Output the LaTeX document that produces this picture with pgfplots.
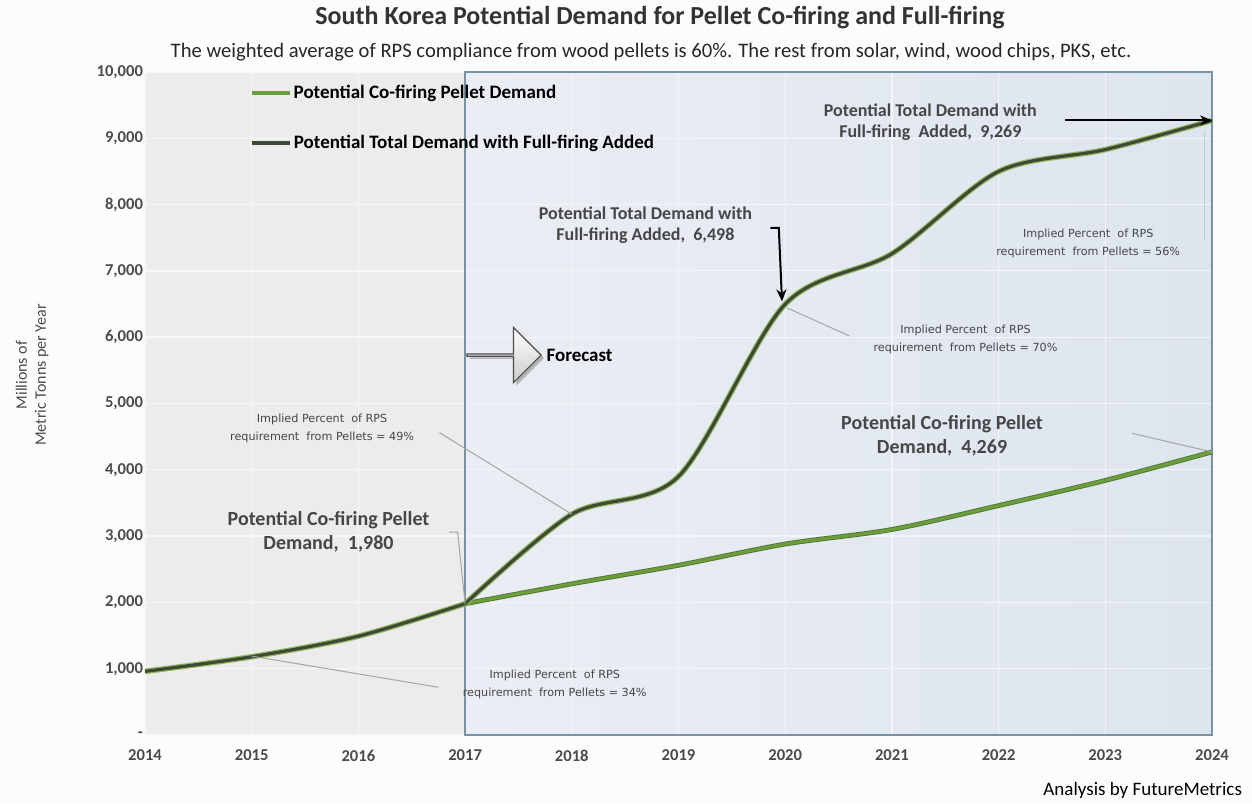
\documentclass[border=0pt]{standalone}
\usepackage{fontspec}
\setmainfont{Carlito}
\newfontfamily\smallfont{DejaVu Sans}
\usepackage{pgfplots}
\pgfplotsset{compat=1.18}
\usetikzlibrary{shapes.arrows,arrows.meta}
\definecolor{cofire}{RGB}{108,158,62}
\definecolor{cofiredark}{RGB}{80,120,48}
\definecolor{total}{RGB}{62,74,52}
\definecolor{totalglow}{RGB}{150,185,100}
\definecolor{plotbg}{RGB}{236,236,237}
\definecolor{gridc}{RGB}{247,247,247}
\definecolor{fcl}{RGB}{235,237,244}
\definecolor{fcr}{RGB}{221,229,239}
\definecolor{fcgrid}{RGB}{243,245,249}
\definecolor{fcborder}{RGB}{120,146,166}
\definecolor{txt}{RGB}{75,75,75}
\definecolor{ann}{RGB}{70,70,70}
\definecolor{lead}{RGB}{165,165,165}

\begin{document}
\begin{tikzpicture}
\fill[white!98!gray] (-72.5pt,-34pt) rectangle (553.5pt,367.5pt);
\begin{axis}[
  scale only axis, width=533.5pt, height=331.5pt,
  xmin=2014, xmax=2024, ymin=0, ymax=10000,
  axis background/.style={fill=plotbg},
  axis line style={draw=none},
  major tick length=0pt,
  scaled y ticks=false,
  xtick={2014,2015,2016,2017,2018,2019,2020,2021,2022,2023,2024},
  xticklabels={2014,2015,2016,2017,2018,2019,2020,2021,2022,2023,2024},
  ytick={0,1000,2000,3000,4000,5000,6000,7000,8000,9000,10000},
  yticklabels={{-},{1,000},{2,000},{3,000},{4,000},{5,000},{6,000},{7,000},{8,000},{9,000},{10,000}},
  tick label style={font=\fontsize{8.3}{9}\selectfont\bfseries, text=txt},
  xticklabel style={yshift=-4pt},
  yticklabel style={xshift=2.5pt},
  /pgf/number format/assume math mode=true,
  grid=major, grid style={gridc, line width=0.7pt},
  clip=false,
]
% forecast region
\fill[left color=fcl, right color=fcr] (axis cs:2017,0) rectangle (axis cs:2024,10000);
\draw[fcgrid, line width=0.6pt]
  (axis cs:2017,1000) -- (axis cs:2024,1000) (axis cs:2017,2000) -- (axis cs:2024,2000)
  (axis cs:2017,3000) -- (axis cs:2024,3000) (axis cs:2017,4000) -- (axis cs:2024,4000)
  (axis cs:2017,5000) -- (axis cs:2024,5000) (axis cs:2017,6000) -- (axis cs:2024,6000)
  (axis cs:2017,7000) -- (axis cs:2024,7000) (axis cs:2017,8000) -- (axis cs:2024,8000)
  (axis cs:2017,9000) -- (axis cs:2024,9000)
  (axis cs:2018,0) -- (axis cs:2018,10000) (axis cs:2019,0) -- (axis cs:2019,10000)
  (axis cs:2020,0) -- (axis cs:2020,10000) (axis cs:2021,0) -- (axis cs:2021,10000)
  (axis cs:2022,0) -- (axis cs:2022,10000) (axis cs:2023,0) -- (axis cs:2023,10000);
\draw[fcborder, line width=1pt] (axis cs:2017,0) rectangle (axis cs:2024,10000);

% co-firing (forecast part)
\addplot[cofiredark, line width=2.4pt, smooth, forget plot] coordinates {
 (2017,1980) (2018,2280) (2019,2560) (2020,2880) (2021,3100) (2022,3460) (2023,3840) (2024,4269)};
\addplot[cofire, line width=1.5pt, smooth] coordinates {
 (2017,1980) (2018,2280) (2019,2560) (2020,2880) (2021,3100) (2022,3460) (2023,3840) (2024,4269)};
% history (co-firing = total)
\addplot[totalglow, line width=2.8pt, smooth, forget plot] coordinates {
 (2014,960) (2015,1180) (2016,1490) (2017,1980)};
\addplot[total, line width=1.6pt, smooth, forget plot] coordinates {
 (2014,960) (2015,1180) (2016,1490) (2017,1980)};
% total demand (forecast part)
\addplot[totalglow, line width=2.8pt, smooth, forget plot] coordinates {
 (2017,1980) (2018,3330) (2019,3900) (2020,6498) (2021,7260) (2022,8500) (2023,8830) (2024,9269)};
\addplot[total, line width=1.6pt, smooth] coordinates {
 (2017,1980) (2018,3330) (2019,3900) (2020,6498) (2021,7260) (2022,8500) (2023,8830) (2024,9269)};

% legend
\draw[cofire, line width=1.6pt] (axis cs:2015.0,9683) -- (axis cs:2015.36,9683)
  node[right, inner sep=1pt, text=black, font=\fontsize{9.5}{11}\selectfont\bfseries] {Potential Co-firing Pellet Demand};
\draw[total, line width=1.8pt] (axis cs:2015.0,8929) -- (axis cs:2015.36,8929)
  node[right, inner sep=1pt, text=black, font=\fontsize{9.5}{11}\selectfont\bfseries] {Potential Total Demand with Full-firing Added};

% forecast arrow
\node[single arrow, fill=gray!60, minimum height=37pt, minimum width=27.5pt,
  single arrow head extend=7pt, inner sep=0pt] at ([xshift=1.5pt,yshift=-1.5pt]axis cs:2017.36,5731) {};
\node[single arrow, draw=gray!60!black, top color=white, bottom color=gray!40, minimum height=37pt, minimum width=27.5pt,
  single arrow head extend=7pt, inner sep=0pt, line width=0.6pt] at (axis cs:2017.36,5731) {};
\node[anchor=west, inner sep=0pt, font=\fontsize{9.5}{11}\selectfont\bfseries] at (axis cs:2017.76,5731) {Forecast};

% leader lines
\draw[lead, line width=0.5pt] (axis cs:2015.0,1190) -- (axis cs:2016.75,720);
\draw[lead, line width=0.5pt] (axis cs:2016.76,4560) -- (axis cs:2018.0,3330);
\draw[lead, line width=0.5pt] (axis cs:2016.85,3060) -- (axis cs:2016.93,3060) -- (axis cs:2017,1980);
\draw[lead, line width=0.5pt] (axis cs:2020.02,6440) -- (axis cs:2020.6,6020);
\draw[lead, line width=0.5pt] (axis cs:2023.25,4550) -- (axis cs:2024,4269);
\draw[lead!60, line width=0.4pt] (axis cs:2023.93,9100) -- (axis cs:2023.93,7450);

% arrows
\draw[-{Stealth[length=6pt,width=5pt]}, line width=1pt, black] (axis cs:2022.62,9269) -- (axis cs:2024,9269);
\draw[-{Stealth[length=6pt,width=5pt]}, line width=1pt, black] (axis cs:2019.86,7650) -- (axis cs:2019.94,7650) -- (axis cs:2019.97,6540);

% annotations
\node[align=center, text=ann, font=\fontsize{9}{10.5}\selectfont\bfseries] at (axis cs:2021.36,9245) {Potential Total Demand with\\Full-firing \ Added, \ 9,269};
\node[align=center, text=ann, font=\fontsize{9}{10.5}\selectfont\bfseries] at (axis cs:2018.69,7690) {Potential Total Demand with\\Full-firing Added, \ 6,498};
\node[align=center, text=ann, font=\fontsize{10}{12}\selectfont\bfseries] at (axis cs:2021.47,4510) {Potential Co-firing Pellet\\Demand, \ 4,269};
\node[align=center, text=ann, font=\fontsize{10}{12}\selectfont\bfseries] at (axis cs:2015.72,3060) {Potential Co-firing Pellet\\Demand, \ 1,980};
\node[align=center, text=ann, font=\smallfont\fontsize{5.6}{9}\selectfont] at (axis cs:2022.84,7420) {Implied Percent \ of RPS\\requirement \ from Pellets = 56\%};
\node[align=center, text=ann, font=\smallfont\fontsize{5.6}{9}\selectfont] at (axis cs:2021.69,5960) {Implied Percent \ of RPS\\requirement \ from Pellets = 70\%};
\node[align=center, text=ann, font=\smallfont\fontsize{5.6}{9}\selectfont] at (axis cs:2015.66,4630) {Implied Percent \ of RPS\\requirement \ from Pellets = 49\%};
\node[align=center, text=ann, font=\smallfont\fontsize{5.6}{9}\selectfont] at (axis cs:2017.84,770) {Implied Percent \ of RPS\\requirement \ from Pellets = 34\%};
\end{axis}
% titles
\node[text=gray!40!black, font=\fontsize{13}{15}\selectfont\bfseries] at (257.5pt,358.5pt) {South Korea Potential Demand for Pellet Co-firing and Full-firing};
\node[text=black!85, font=\fontsize{10.3}{12}\selectfont] at (253pt,341.5pt) {The weighted average of RPS compliance from wood pellets is 60\%. The rest from solar, wind, wood chips, PKS, etc.};
\node[rotate=90, align=center, text=txt, font=\fontsize{8}{9.5}\selectfont] at (-56.5pt,180pt) {Millions of\\Metric Tonns per Year};
\node[anchor=east, font=\fontsize{9.5}{11}\selectfont] at (552pt,-27.5pt) {Analysis by FutureMetrics};
\pgfresetboundingbox
\path (-72.5pt,-34pt) rectangle (553.5pt,367.5pt);
\end{tikzpicture}
\end{document}
